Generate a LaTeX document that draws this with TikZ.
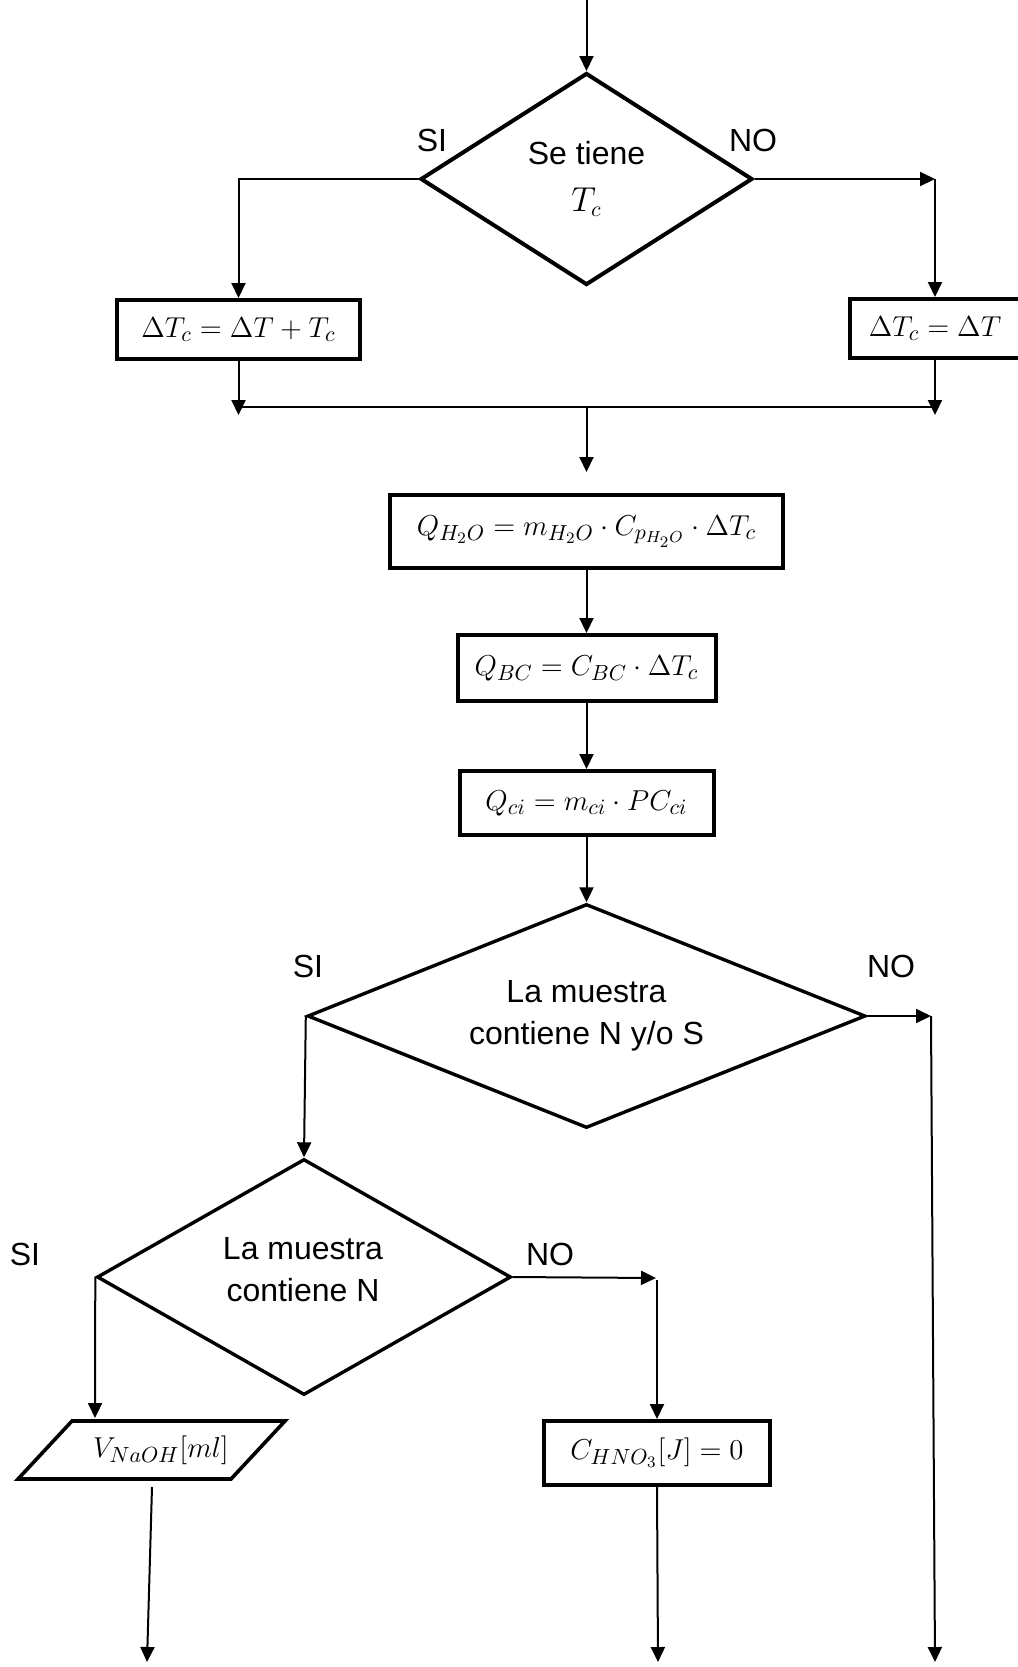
\documentclass[tikz,border=0pt]{standalone}
\usepackage{fontspec}
\setmainfont{Liberation Sans}
\usetikzlibrary{shapes.geometric,arrows.meta}
\begin{document}
\begin{tikzpicture}[x=0.5pt,y=-0.5pt,
  conn/.style={line width=1pt,-{Triangle[length=7.5pt,width=7pt]}},
  plainline/.style={line width=1pt},
  procbox/.style={draw,rectangle,line width=2pt,inner sep=0pt,
    font=\fontsize{15.5}{19}\selectfont},
  decision/.style={draw,diamond,inner sep=0pt,align=center,line width=1.8pt,
    font=\fontsize{16}{21}\selectfont},
  lbl/.style={inner sep=0pt,font=\fontsize{16}{19}\selectfont},
  dtext/.style={inner sep=0pt,align=center,font=\fontsize{16}{21}\selectfont},
  mathtxt/.style={inner sep=0pt,font=\fontsize{15.5}{19}\selectfont}]
\useasboundingbox (0,0) rectangle (1018,1667);

% first decision
\coordinate (start) at (586.5,0);
\node[decision,line width=2pt,aspect=1.55,minimum width=166pt,minimum height=106pt,
  font=\fontsize{16}{23.5}\selectfont] (d1) at (586.5,179) {Se tiene\\$T_c$};
\node[lbl] (si1) at (432,140) {SI};
\node[lbl] (no1) at (753,140) {NO};

\node[procbox,minimum width=121.5pt,minimum height=29.5pt] (b1) at (238.5,329.5) {$\Delta T_c = \Delta T + T_c$};
\node[procbox,minimum width=85pt,minimum height=29.5pt] (b2) at (935,328.5) {$\Delta T_c = \Delta T$};

\coordinate (c1) at (935,179);
\coordinate (j1) at (238.5,415);
\coordinate (j2) at (935,415);
\coordinate (hl) at (238.5,407);
\coordinate (hr) at (935,407);
\coordinate (hc) at (586.5,407);
\coordinate (a1) at (586.5,472);

\draw[conn] (start) -- (d1.north);
\draw[conn] (d1.west) -| (b1.north);
\draw[conn] (d1.east) -- (c1);
\draw[conn] (c1) -- (b2.north);
\draw[conn] (b1.south) -- (j1);
\draw[conn] (b2.south) -- (j2);
\draw[plainline] (hl) -- (hr);
\draw[conn] (hc) -- (a1);

% process chain
\node[procbox,minimum width=196.5pt,minimum height=36.5pt] (qh) at (586.5,531.5) {$Q_{H_2O} = m_{H_2O}\cdot C_{p_{H_2O}}\cdot \Delta T_c$};
\node[procbox,minimum width=129pt,minimum height=33pt] (qbc) at (586.5,668) {$Q_{BC} = C_{BC}\cdot \Delta T_c$};
\node[procbox,minimum width=127pt,minimum height=32pt] (qci) at (586.5,803) {$Q_{ci} = m_{ci}\cdot PC_{ci}$};

\draw[conn] (qh.south) -- (qbc.north);
\draw[conn] (qbc.south) -- (qci.north);

% second decision
\node[decision,line width=1.7pt,aspect=2.5,minimum width=279pt,minimum height=112pt] (d2) at (586.5,1016) {La muestra\\contiene N y/o S};
\node[lbl] (si2) at (308,966) {SI};
\node[lbl] (no2) at (891,966) {NO};
\draw[conn] (qci.south) -- (d2.north);

\coordinate (c2) at (931,1016);
\coordinate (e2) at (935,1662);
\draw[conn] (d2.east) -- (c2);
\draw[conn] (c2) -- (e2);

% third decision
\node[decision,line width=1.7pt,aspect=1.75,minimum width=207pt,minimum height=118pt] (d3) at (304,1277) {};
\node[dtext] (d3t) at (303,1270) {La muestra\\contiene N};
\node[lbl] (si3) at (25,1254) {SI};
\node[lbl] (no3) at (550,1254) {NO};
\draw[conn] (d2.west) -- (d3.north);

% input parallelogram
\draw[line width=1.8pt,line join=miter] (72,1421) -- (285,1421) -- (231,1479) -- (18,1479) -- cycle;
\node[mathtxt] (vin) at (161,1450) {$V_{NaOH}[ml]$};
\coordinate (pin) at (95,1418);
\coordinate (pout) at (152,1487);
\coordinate (pend) at (147,1662);
\draw[conn] (d3.west) -- (pin);
\draw[conn] (pout) -- (pend);

% C_HNO3 box
\node[procbox,minimum width=113pt,minimum height=32pt] (hn) at (657,1453) {$C_{HNO_3}[J] = 0$};
\coordinate (c3) at (656,1278);
\coordinate (c3b) at (657,1280);
\coordinate (e3) at (658,1662);
\draw[conn] (d3.east) -- (c3);
\draw[conn] (c3b) -- (hn.north);
\draw[conn] (hn.south) -- (e3);
\end{tikzpicture}
\end{document}
